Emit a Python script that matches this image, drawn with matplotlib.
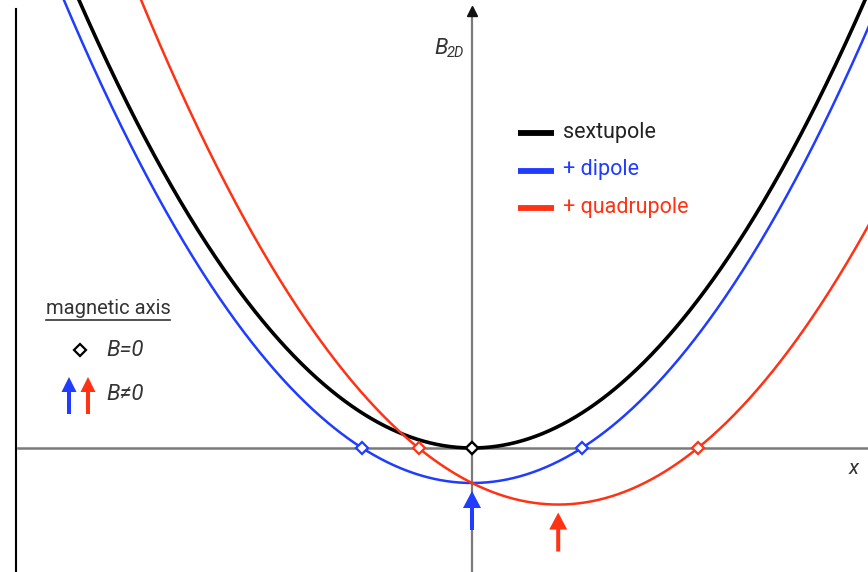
import numpy as np
import matplotlib
matplotlib.use("Agg")
import matplotlib.pyplot as plt

plt.rcParams['font.family'] = ['Roboto', 'DejaVu Sans']

# field profile B(x) = a*x^2 + b*x + c for each multipole combination
names = ["sextupole", "+ dipole", "+ quadrupole"]
coef_a = [0.29, 0.29, 0.29]
coef_b = [0.0, 0.0, -0.50]
coef_c = [0.0, -0.35, -0.35]
colors = ["#000000", "#1f3cff", "#ff3214"]
widths = [2.6, 1.8, 1.8]

fig = plt.figure(figsize=(8.68, 5.72), dpi=100)
ax = fig.add_axes([0, 0, 1, 1])
ax.set_xlim(-4.72, 3.96)
ax.set_ylim(-1.24, 4.48)
ax.axis("off")

# coordinate axes
ax.plot([-4.54, 3.96], [0, 0], color="#7a7a7a", lw=1.8, zorder=1)
ax.plot([0, 0], [-1.24, 4.36], color="#7a7a7a", lw=1.6, zorder=1)
ax.plot([0], [4.37], marker="^", ms=7, color="#111111", ls="none", zorder=1)
ax.plot([-4.56, -4.56], [-1.24, 4.39], color="black", lw=1.5)

x = np.linspace(-4.8, 4.0, 800)
for a, b, c, col, w in zip(coef_a, coef_b, coef_c, colors, widths):
    ax.plot(x, a * x**2 + b * x + c, color=col, lw=w, zorder=3)

# zero crossings (B = 0) and the field minimum where B != 0
for a, b, c, col in zip(coef_a, coef_b, coef_c, colors):
    roots = np.real(np.roots([a, b, c]))
    ax.plot(roots, np.zeros_like(roots), ls="none", marker="D", ms=6,
            mfc="white", mec=col, mew=1.6, zorder=5)
    if c != 0:
        xm = -b / (2 * a)
        ym = a * xm**2 + b * xm + c
        ax.arrow(xm, ym - 0.47, 0, 0.39, width=0.04, head_width=0.18,
                 head_length=0.17, length_includes_head=True,
                 color=col, lw=0, zorder=6)

# legend
for i, (name, col, w) in enumerate(zip(names, colors, widths)):
    yl = 3.15 - 0.375 * i
    ax.plot([0.46, 0.82], [yl, yl], color=col, lw=4.2, solid_capstyle="butt")
    ax.text(0.91, yl + 0.01, name, color=col if i else "#222222",
            fontsize=15.5, va="center", ha="left")

# magnetic axis key
ax.text(-4.26, 1.39, "magnetic axis", fontsize=14.5, color="#333333",
        va="center", ha="left")
ax.plot([-4.26, -3.02], [1.28, 1.28], color="#333333", lw=1.2)
ax.plot([-3.92], [0.98], ls="none", marker="D", ms=6, mfc="white",
        mec="black", mew=1.6)
ax.text(-3.66, 0.98, "B=0", fontsize=16, style="italic", color="#333333",
        va="center", ha="left")
for xa, col in zip([-4.03, -3.84], colors[1:]):
    ax.arrow(xa, 0.34, 0, 0.37, width=0.04, head_width=0.15,
             head_length=0.15, length_includes_head=True, color=col, lw=0)
ax.text(-3.66, 0.53, "B≠0", fontsize=16, style="italic", color="#333333",
        va="center", ha="left")

# axis labels
ax.text(-0.38, 4.0, "B", fontsize=16, style="italic", color="#333333",
        va="center", ha="left")
ax.text(-0.25, 3.95, "2D", fontsize=10.5, style="italic", color="#333333",
        va="center", ha="left")
ax.text(3.77, -0.20, "x", fontsize=15, style="italic", color="#333333",
        va="center", ha="left")

fig.savefig("out.png", dpi=100)
